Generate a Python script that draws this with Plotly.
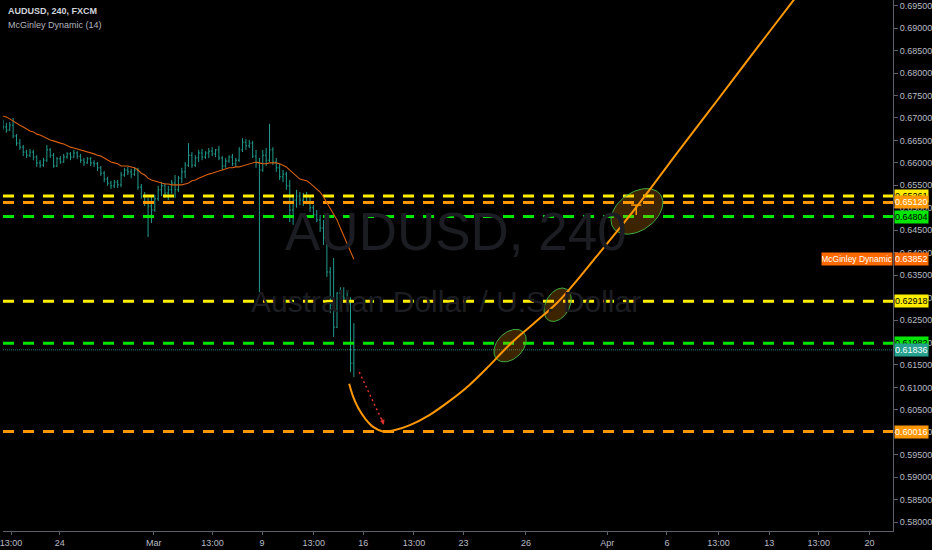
import numpy as np
import plotly.graph_objects as go

# ---------------- data ----------------
bar_open = [0.6687,0.6680,0.6673,0.6684,0.6660,0.6644,0.6635,0.6624,0.6617,0.6624,
            0.6613,0.6600,0.6595,0.6606,0.6629,0.6617,0.6593,0.6609,0.6602,0.6613,
            0.6620,0.6613,0.6622,0.6615,0.6606,0.6600,0.6609,0.6600,0.6598,0.6589,
            0.6577,0.6564,0.6555,0.6549,0.6557,0.6551,0.6573,0.6584,0.6580,0.6575,
            0.6584,0.6546,0.6526,0.6513,0.6504,0.6495,0.6520,0.6540,0.6549,0.6533,
            0.6540,0.6555,0.6540,0.6566,0.6580,0.6595,0.6617,0.6595,0.6611,0.6622,
            0.6613,0.6622,0.6626,0.6620,0.6629,0.6611,0.6593,0.6604,0.6613,0.6598,
            0.6606,0.6629,0.6646,0.6638,0.6644,0.6615,0.6600,0.6584,0.6617,0.6606,
            0.6629,0.6602,0.6589,0.6569,0.6575,0.6549,0.6495,0.6517,0.6526,0.6517,
            0.6524,0.6513,0.6500,0.6484,0.6473,0.6455,0.6433,0.6357,0.6283,0.6234,
            0.6310,0.6303,0.6299,0.6286,0.6154]
bar_high = [0.6696,0.6689,0.6691,0.6700,0.6664,0.6653,0.6640,0.6629,0.6631,0.6629,
            0.6617,0.6606,0.6611,0.6640,0.6633,0.6622,0.6613,0.6615,0.6620,0.6624,
            0.6624,0.6629,0.6626,0.6620,0.6611,0.6613,0.6613,0.6606,0.6602,0.6593,
            0.6582,0.6569,0.6560,0.6562,0.6562,0.6580,0.6589,0.6591,0.6587,0.6589,
            0.6589,0.6553,0.6535,0.6522,0.6526,0.6529,0.6549,0.6557,0.6555,0.6549,
            0.6562,0.6573,0.6571,0.6589,0.6602,0.6644,0.6624,0.6617,0.6629,0.6631,
            0.6626,0.6633,0.6635,0.6631,0.6638,0.6615,0.6611,0.6617,0.6620,0.6611,
            0.6635,0.6655,0.6653,0.6651,0.6649,0.6629,0.6611,0.6629,0.6633,0.6687,
            0.6635,0.6611,0.6598,0.6584,0.6580,0.6562,0.6529,0.6540,0.6535,0.6533,
            0.6535,0.6526,0.6506,0.6495,0.6484,0.6473,0.6435,0.6368,0.6388,0.6312,
            0.6323,0.6323,0.6317,0.6301,0.6243]
bar_low = [0.6673,0.6667,0.6671,0.6655,0.6638,0.6629,0.6615,0.6611,0.6613,0.6606,
           0.6591,0.6589,0.6591,0.6602,0.6611,0.6589,0.6591,0.6598,0.6600,0.6609,
           0.6606,0.6611,0.6609,0.6600,0.6593,0.6598,0.6593,0.6591,0.6582,0.6571,
           0.6557,0.6549,0.6542,0.6544,0.6544,0.6546,0.6569,0.6573,0.6566,0.6571,
           0.6540,0.6520,0.6504,0.6435,0.6466,0.6491,0.6515,0.6526,0.6522,0.6517,
           0.6531,0.6522,0.6535,0.6555,0.6566,0.6591,0.6589,0.6591,0.6602,0.6606,
           0.6609,0.6611,0.6615,0.6613,0.6606,0.6584,0.6589,0.6600,0.6593,0.6591,
           0.6602,0.6624,0.6629,0.6633,0.6611,0.6589,0.6312,0.6580,0.6593,0.6602,
           0.6595,0.6580,0.6562,0.6557,0.6540,0.6468,0.6462,0.6500,0.6506,0.6504,
           0.6508,0.6491,0.6477,0.6468,0.6446,0.6417,0.6346,0.6266,0.6212,0.6232,
           0.6272,0.6288,0.6283,0.6134,0.6123]
bar_close = [0.6680,0.6673,0.6684,0.6660,0.6644,0.6635,0.6624,0.6617,0.6624,0.6613,
             0.6600,0.6595,0.6606,0.6629,0.6617,0.6593,0.6609,0.6602,0.6613,0.6620,
             0.6613,0.6622,0.6615,0.6606,0.6600,0.6609,0.6600,0.6598,0.6589,0.6577,
             0.6564,0.6555,0.6549,0.6557,0.6551,0.6573,0.6584,0.6580,0.6575,0.6584,
             0.6546,0.6526,0.6513,0.6504,0.6495,0.6520,0.6540,0.6549,0.6533,0.6540,
             0.6555,0.6540,0.6566,0.6580,0.6595,0.6617,0.6595,0.6611,0.6622,0.6613,
             0.6622,0.6626,0.6620,0.6629,0.6611,0.6593,0.6604,0.6613,0.6598,0.6606,
             0.6629,0.6646,0.6638,0.6644,0.6615,0.6600,0.6584,0.6617,0.6606,0.6629,
             0.6602,0.6589,0.6569,0.6575,0.6549,0.6495,0.6517,0.6526,0.6517,0.6524,
             0.6513,0.6500,0.6484,0.6473,0.6455,0.6433,0.6357,0.6283,0.6234,0.6310,
             0.6303,0.6299,0.6286,0.6154,0.61836]
mcginley = [0.6704,0.6702,0.6698,0.6693,0.6689,0.6684,0.6680,0.6676,0.6671,0.6669,
            0.6664,0.6662,0.6658,0.6655,0.6651,0.6649,0.6646,0.6644,0.6642,0.6638,
            0.6635,0.6633,0.6631,0.6629,0.6626,0.6624,0.6622,0.6620,0.6617,0.6615,
            0.6611,0.6606,0.6602,0.6600,0.6598,0.6593,0.6593,0.6593,0.6591,0.6589,
            0.6584,0.6577,0.6573,0.6566,0.6562,0.6560,0.6557,0.6555,0.6553,0.6553,
            0.6551,0.6551,0.6551,0.6551,0.6553,0.6555,0.6560,0.6562,0.6566,0.6569,
            0.6573,0.6575,0.6577,0.6580,0.6582,0.6584,0.6586,0.6589,0.6589,0.6591,
            0.6591,0.6593,0.6595,0.6598,0.6600,0.6602,0.6600,0.6598,0.6598,0.6600,
            0.6600,0.6600,0.6598,0.6595,0.6591,0.6584,0.6577,0.6569,0.6564,0.6562,
            0.6560,0.6555,0.6549,0.6542,0.6535,0.6524,0.6511,0.6500,0.6486,0.6473,
            0.6455,0.6437,0.6422,0.6404,0.63852]
bar_index = list(range(len(bar_close)))

# projected path (bar index, price)
proj_x = [102.6,103.8,105.3,107.4,109.7,112.6,116.2,120.6,126.5,132.4,138.2,
          144.1,150.0,157.4,164.7,176.5,188.2,200.0,211.8,223.5,234.4,238.2]
proj_y = [0.6108,0.6079,0.6054,0.6030,0.6012,0.6002,0.6005,0.6016,0.6039,0.6070,0.6105,
          0.6148,0.6194,0.6243,0.6292,0.6397,0.6506,0.6624,0.6740,0.6856,0.6963,0.7001]
arrow_x = [105.6, 112.9]
arrow_y = [0.6134, 0.6017]

# horizontal levels
level_values = [0.65261, 0.65120, 0.64804, 0.62918, 0.61982, 0.60016]
level_colors = ["#ffee00", "#ff9800", "#00e600", "#ffee00", "#00e600", "#ff9800"]
level_text = ["#000000", "#ffffff", "#000000", "#000000", "#000000", "#ffffff"]
last_price = 0.61836

# target ellipses: centre (bar, price), semi-axes px, rotation deg
ell_cx = [150.3, 164.4, 187.9]
ell_cy = [0.6193, 0.6284, 0.6492]
ell_a = [19, 18, 29]
ell_b = [13, 12, 19]
ell_rot = [45, 60, 35]

tick_vals = [2.4,16.8,44.7,62.1,76.8,92.1,106.8,121.8,136.5,155,179.1,196.8,212.1,227.1,241.8,256.8]
tick_text = ["13:00","24","Mar","13:00","9","13:00","16","13:00","23","26","Apr","6","13:00","13","13:00","20"]

# ---------------- layout constants ----------------
W, H = 932, 550
ML, MR, MT, MB = 0, 35, 0, 19
X_RANGE = [0, 263.8]
Y_RANGE = [0.57802, 0.69627]
plot_w = W - ML - MR
plot_h = H - MT - MB
px_per_x = plot_w / (X_RANGE[1] - X_RANGE[0])
px_per_y = plot_h / (Y_RANGE[1] - Y_RANGE[0])

BAR_COLOR = "#229a8c"
AX_COLOR = "#5d606b"
LBL_COLOR = "#b8bbc4"
FONT = "Liberation Sans Narrow, Liberation Sans, Arial"
WM_COLOR = "#1c1d22"

fig = go.Figure()

# levels
for v, c in zip(level_values, level_colors):
    fig.add_trace(go.Scatter(x=[X_RANGE[0], X_RANGE[1]], y=[v, v], mode="lines",
                             line=dict(color=c, width=3, dash="11px,9px"),
                             hoverinfo="skip", showlegend=False))
# last price dotted line
fig.add_trace(go.Scatter(x=[X_RANGE[0], X_RANGE[1]], y=[last_price, last_price], mode="lines",
                         line=dict(color="#1f7c72", width=1, dash="1px,1px"),
                         hoverinfo="skip", showlegend=False))

# ohlc bars
fig.add_trace(go.Ohlc(x=bar_index, open=bar_open, high=bar_high, low=bar_low, close=bar_close,
                      increasing=dict(line=dict(color=BAR_COLOR, width=1)),
                      decreasing=dict(line=dict(color=BAR_COLOR, width=1)),
                      tickwidth=0.35, showlegend=False))

# McGinley dynamic
fig.add_trace(go.Scatter(x=bar_index, y=mcginley, mode="lines",
                         line=dict(color="#d9600f", width=1.1),
                         hoverinfo="skip", showlegend=False))

# ellipses
for cx, cy, a, b, r in zip(ell_cx, ell_cy, ell_a, ell_b, ell_rot):
    t = np.linspace(0, 2 * np.pi, 80)
    th = np.deg2rad(r)
    dx = a * np.cos(t) * np.cos(th) - b * np.sin(t) * np.sin(th)
    dy = a * np.cos(t) * np.sin(th) + b * np.sin(t) * np.cos(th)
    fig.add_trace(go.Scatter(x=cx + dx / px_per_x, y=cy + dy / px_per_y, mode="lines",
                             fill="toself", fillcolor="rgba(255,152,0,0.24)",
                             line=dict(color="#3fae3f", width=1),
                             hoverinfo="skip", showlegend=False))

# projection path
fig.add_trace(go.Scatter(x=proj_x, y=proj_y, mode="lines", line_shape="spline",
                         line=dict(color="#ff9800", width=2),
                         hoverinfo="skip", showlegend=False))
# red dotted arrow
fig.add_trace(go.Scatter(x=arrow_x, y=arrow_y, mode="lines",
                         line=dict(color="#d8342c", width=1.5, dash="2px,3px"),
                         hoverinfo="skip", showlegend=False))

annotations = []
annotations.append(dict(x=arrow_x[1], y=arrow_y[1], xref="x", yref="y", ax=-3, ay=-8,
                        showarrow=True, arrowhead=2, arrowsize=0.8, arrowwidth=1.2,
                        arrowcolor="#d8342c", text=""))

# watermark
annotations.append(dict(x=0.497, y=0.555, xref="paper", yref="paper", text="AUDUSD, 240",
                        xshift=11, yshift=5,
                        showarrow=False, font=dict(family=FONT, size=53, color=WM_COLOR)))
annotations.append(dict(x=0.497, y=0.420, xref="paper", yref="paper",
                        text="Australian Dollar / U.S. Dollar", xshift=1, yshift=6,
                        showarrow=False, font=dict(family=FONT, size=30, color=WM_COLOR)))

# top-left legend
annotations.append(dict(x=0, y=1, xref="paper", yref="paper", xanchor="left", yanchor="top",
                        xshift=3, yshift=-4, text="<b>AUDUSD, 240, FXCM</b>", showarrow=False,
                        font=dict(family=FONT, size=9, color="#d1d4dc")))
annotations.append(dict(x=0, y=1, xref="paper", yref="paper", xanchor="left", yanchor="top",
                        xshift=3, yshift=-18, text="McGinley Dynamic (14)", showarrow=False,
                        font=dict(family=FONT, size=9, color="#b2b5be")))

# price labels on axis
def price_label(v, bg, fg):
    return dict(x=1, y=v, xref="paper", yref="y", xanchor="left", yanchor="middle",
                text="%.5f" % v, showarrow=False, bgcolor=bg, width=33, height=12,
                align="left", borderpad=0, xshift=1,
                font=dict(family=FONT, size=9, color=fg))

for v, c, tc in zip(level_values, level_colors, level_text):
    annotations.append(price_label(v, c, tc))
annotations.append(price_label(last_price, "#26a28f", "#ffffff"))
annotations.append(price_label(mcginley[-1], "#ff6a00", "#ffffff"))
annotations.append(dict(x=1, y=mcginley[-1], xref="paper", yref="y", xanchor="right",
                        yanchor="middle", text="McGinley Dynamic", showarrow=False,
                        bgcolor="#ff6a00", width=70, height=12, borderpad=0,
                        font=dict(family=FONT, size=8.5, color="#ffffff")))

# small marker at third target
shapes = [
    dict(type="line", xref="x", yref="y", x0=186.2, x1=189.2, y0=0.6506, y1=0.6506,
         line=dict(color="#ff9800", width=1.5)),
    dict(type="line", xref="x", yref="y", x0=187.7, x1=187.7, y0=0.6506, y1=0.6484,
         line=dict(color="#ff9800", width=1.5)),
]

fig.update_layout(
    width=W, height=H,
    margin=dict(l=ML, r=MR, t=MT, b=MB),
    paper_bgcolor="#000000", plot_bgcolor="#000000",
    showlegend=False,
    annotations=annotations, shapes=shapes,
    xaxis=dict(range=X_RANGE, showgrid=False, zeroline=False, rangeslider=dict(visible=False),
               tickmode="array", tickvals=tick_vals, ticktext=tick_text,
               ticks="outside", ticklen=3, tickcolor=AX_COLOR, ticklabeloverflow="allow",
               showline=True, linecolor=AX_COLOR, linewidth=1,
               tickfont=dict(family=FONT, size=9, color=LBL_COLOR)),
    yaxis=dict(range=Y_RANGE, side="right", showgrid=False, zeroline=False,
               tickmode="array", tickvals=[round(0.58 + 0.005 * k, 3) for k in range(24)],
               ticktext=["%.5f" % (0.58 + 0.005 * k) for k in range(24)],
               ticks="outside", ticklen=4, tickcolor=AX_COLOR, ticklabeloverflow="allow",
               showline=True, linecolor=AX_COLOR, linewidth=1,
               tickfont=dict(family=FONT, size=9, color=LBL_COLOR)),
)

fig.write_html("out.html", config={"displayModeBar": False},
               post_script="document.body.style.margin='0';document.body.style.padding='0';"
                           "document.body.style.overflow='hidden';document.body.style.background='#000';")
